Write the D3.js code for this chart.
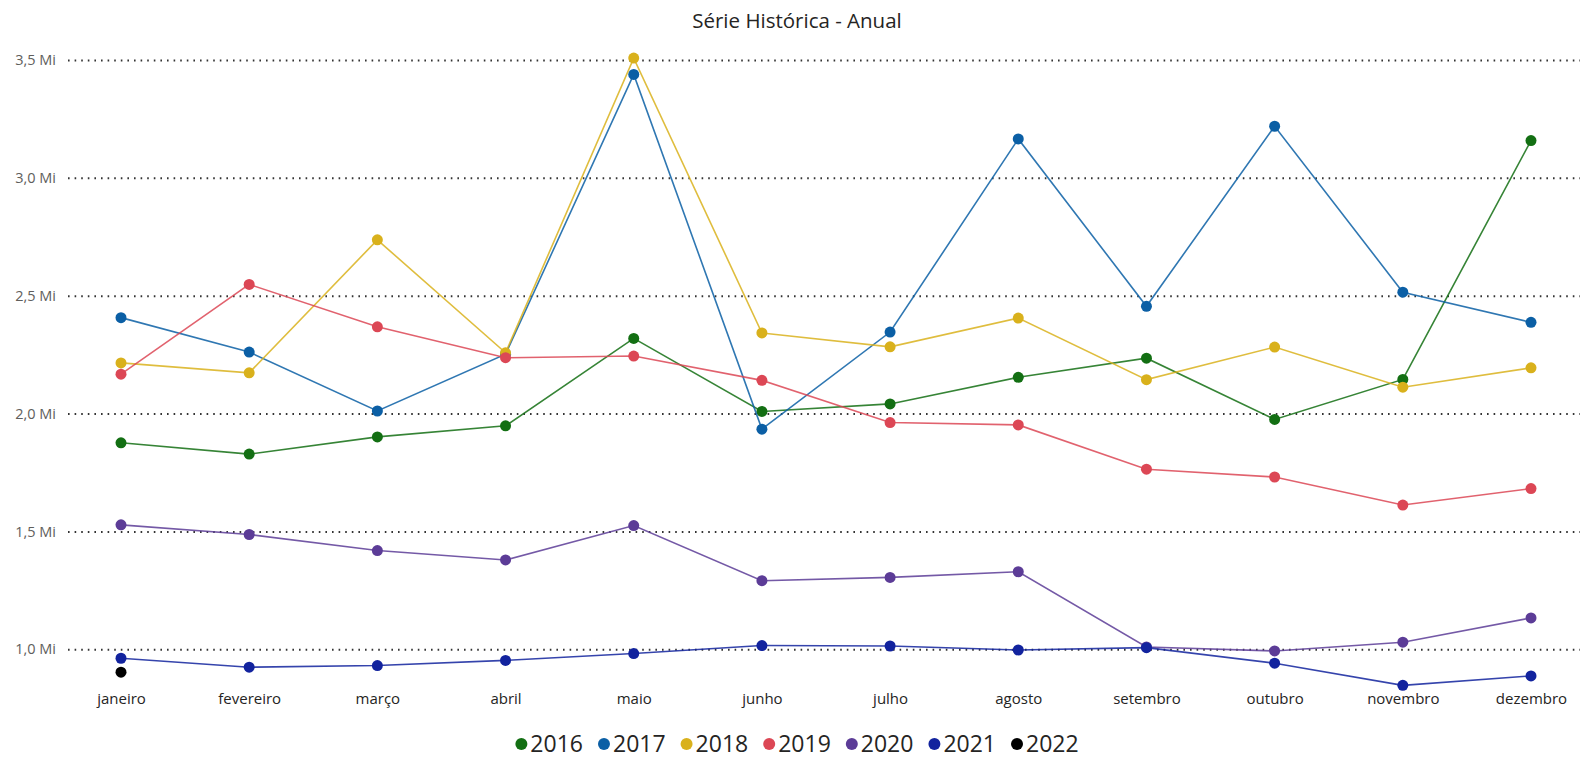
<!DOCTYPE html>
<html>
<head>
<meta charset="utf-8">
<script src="https://cdn.jsdelivr.net/npm/d3@7"></script>
<style>
  html, body { margin: 0; padding: 0; background: #fff; }
  #serie-chart { width: 1582px; height: 760px; }
</style>
</head>
<body>
<div id="serie-chart"></div>
<script>
// Monthly values (millions)
const months = ['janeiro', 'fevereiro', 'março', 'abril', 'maio', 'junho',
  'julho', 'agosto', 'setembro', 'outubro', 'novembro', 'dezembro'];

const years = ['2016', '2017', '2018', '2019', '2020', '2021', '2022'];

const v2016 = [1.876, 1.828, 1.901, 1.948, 2.319, 2.009, 2.041, 2.154, 2.235, 1.975, 2.145, 3.158];
const v2017 = [2.407, 2.261, 2.011, 2.252, 3.439, 1.934, 2.346, 3.165, 2.455, 3.219, 2.515, 2.387];
const v2018 = [2.215, 2.173, 2.737, 2.258, 3.508, 2.342, 2.283, 2.405, 2.144, 2.282, 2.112, 2.194];
const v2019 = [2.167, 2.548, 2.368, 2.237, 2.244, 2.141, 1.962, 1.952, 1.764, 1.731, 1.612, 1.682];
const v2020 = [1.528, 1.487, 1.419, 1.379, 1.525, 1.291, 1.305, 1.329, 1.010, 0.993, 1.030, 1.133];
const v2021 = [0.962, 0.924, 0.931, 0.953, 0.982, 1.016, 1.014, 0.997, 1.007, 0.941, 0.847, 0.887];
const v2022 = [0.903];

const yTicks = [1.0, 1.5, 2.0, 2.5, 3.0, 3.5];

function initSerieChart() {
  const width = 1582;
  const height = 760;
  const colors = ['#136f13', '#0b5fa5', '#d9b11c', '#dc4755', '#5c3c97', '#12239e', '#000000'];
  const values = [v2016, v2017, v2018, v2019, v2020, v2021, v2022];

  const series = years.map((y, i) => ({
    name: y,
    color: colors[i],
    data: values[i].map((v, j) => ({ month: months[j], value: v }))
  }));

  const ptBR = d3.formatLocale({ decimal: ',', thousands: '.', grouping: [3], currency: ['R$', ''] });
  const fmt = ptBR.format('.1f');

  const svg = d3.select('#serie-chart')
    .append('svg')
    .attr('width', width)
    .attr('height', height)
    .style('font-family', '"Segoe UI", "Open Sans", sans-serif');

  // Scales
  const xScale = d3.scalePoint()
    .domain(months)
    .range([121, 1531]);

  const yScale = d3.scaleLinear()
    .domain([1.0, 3.5])
    .range([649.3, 60]);

  // Title
  svg.append('text')
    .attr('x', 797)
    .attr('y', 28)
    .attr('text-anchor', 'middle')
    .style('fill', '#252423')
    .style('font-size', '20.5px')
    .text('Série Histórica - Anual');

  // Y grid + labels
  const yAxis = svg.append('g')
    .attr('transform', 'translate(68,0)')
    .call(d3.axisLeft(yScale)
      .tickValues(yTicks)
      .tickSize(-1512)
      .tickPadding(12)
      .tickFormat(d => fmt(d) + ' Mi'));

  yAxis.select('.domain').remove();
  yAxis.selectAll('line')
    .attr('x1', 0)
    .style('stroke', '#333')
    .style('stroke-width', 2)
    .style('stroke-dasharray', '1.6,5');
  yAxis.selectAll('text')
    .style('fill', '#605e5c')
    .style('font-size', '14.5px')
    .style('font-family', '"Segoe UI", "Open Sans", sans-serif');

  // X axis labels
  const xAxis = svg.append('g')
    .attr('transform', 'translate(0,686)')
    .call(d3.axisBottom(xScale).tickSize(0).tickPadding(7));

  xAxis.select('.domain').remove();
  xAxis.selectAll('text')
    .style('fill', '#252423')
    .style('font-size', '15px')
    .style('font-family', '"Segoe UI", "Open Sans", sans-serif');

  // Lines
  const line = d3.line()
    .x(d => xScale(d.month))
    .y(d => yScale(d.value));

  const groups = svg.selectAll('.year-group')
    .data(series)
    .enter().append('g')
    .attr('class', 'year-group');

  groups.append('path')
    .attr('d', d => line(d.data))
    .attr('fill', 'none')
    .attr('stroke', d => d.color)
    .attr('stroke-width', 1.6)
    .style('opacity', 0.85);

  groups.selectAll('circle')
    .data(d => d.data.map(p => Object.assign({ color: d.color }, p)))
    .enter().append('circle')
    .attr('cx', d => xScale(d.month))
    .attr('cy', d => yScale(d.value))
    .attr('r', 5.5)
    .attr('fill', d => d.color);

  // Legend
  const legend = svg.append('g');
  let lx = 0;
  series.forEach(s => {
    const item = legend.append('g').attr('transform', `translate(${lx},0)`);
    item.append('circle')
      .attr('cx', 6)
      .attr('cy', 0)
      .attr('r', 6)
      .attr('fill', s.color);
    const t = item.append('text')
      .attr('x', 15)
      .attr('y', 0)
      .attr('dy', '0.35em')
      .style('fill', '#252423')
      .style('font-size', '23px')
      .text(s.name);
    lx += 15 + t.node().getComputedTextLength() + 15;
  });
  const legendWidth = lx - 15;
  legend.attr('transform', `translate(${797 - legendWidth / 2},744)`);
}

if (document.readyState === 'loading') {
  document.addEventListener('DOMContentLoaded', initSerieChart);
} else {
  initSerieChart();
}
</script>
</body>
</html>
